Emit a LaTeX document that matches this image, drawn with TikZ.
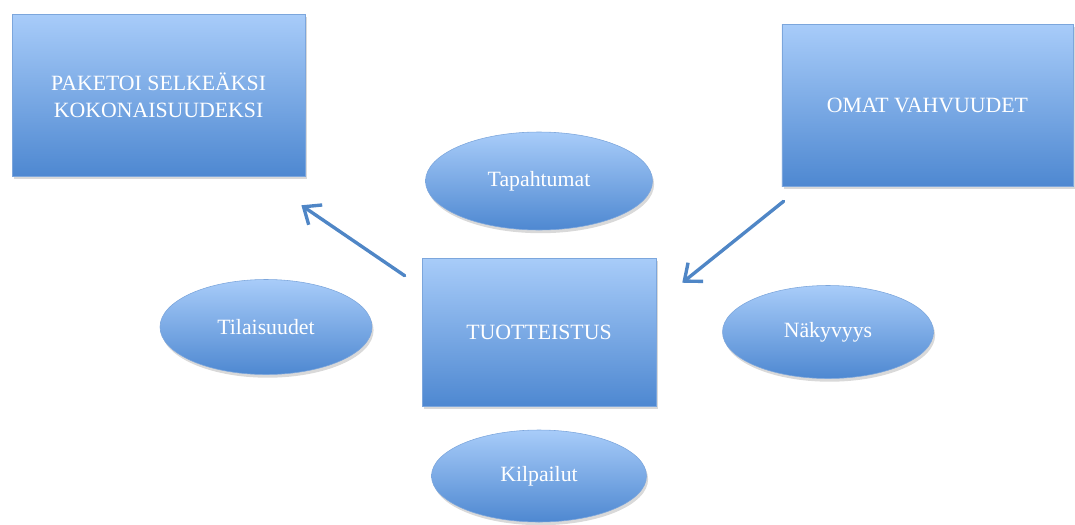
\documentclass[tikz,border=0pt]{standalone}
\usepackage{fontspec}
\setmainfont{Liberation Serif}
\usetikzlibrary{positioning, shapes.geometric, shadows, arrows.meta}
\definecolor{laatyla}{HTML}{A8CCF9}
\definecolor{laatala}{HTML}{4E88D1}
\definecolor{laatreuna}{HTML}{7CA6DC}
\definecolor{nuoli}{HTML}{4F86C6}
\tikzset{
  laatikko/.style = {rectangle, draw=laatreuna, thin, top color=laatyla, bottom color=laatala,
    drop shadow={opacity=0.3, shadow xshift=0.04cm, shadow yshift=-0.08cm},
    text=white, align=center, font=\fontsize{15.5}{19}\selectfont, inner sep=0pt},
  soikio/.style = {ellipse, draw=laatreuna, thin, top color=laatyla, bottom color=laatala,
    drop shadow={opacity=0.3, shadow xshift=0.04cm, shadow yshift=-0.08cm},
    text=white, font=\fontsize{15.5}{19}\selectfont, inner sep=0pt},
  nuolet/.style = {-{Straight Barb[length=3.6mm, width=6mm]}, draw=nuoli, line width=2.4pt, line cap=round}
}
\begin{document}
\begin{tikzpicture} [on grid]
\useasboundingbox (0,0) rectangle (26.875,-13.1);
\node (tuo) [laatikko, minimum width=5.85cm, minimum height=3.7cm] at (13.475,-8.3) {TUOTTEISTUS};
\node (tap) [soikio, minimum width=5.675cm, minimum height=2.45cm, above = 3.775cm of tuo] {Tapahtumat};
\node (kil) [soikio, minimum width=5.375cm, minimum height=2.3cm, below = 3.6cm of tuo] {Kilpailut};
\node (til) [soikio, minimum width=5.3cm, minimum height=2.375cm, above left = 0.125cm and 6.825cm of tuo] {Tilaisuudet};
\node (nak) [soikio, minimum width=5.275cm, minimum height=2.325cm, right = 7.225cm of tuo] {Näkyvyys};
\node (pak) [laatikko, minimum width=7.325cm, minimum height=4.05cm, above left = 5.925cm and 9.51cm of tuo] {PAKETOI SELKEÄKSI\\KOKONAISUUDEKSI};
\node (oma) [laatikko, minimum width=7.275cm, minimum height=4.05cm, above right = 5.675cm and 9.71cm of tuo] {OMAT VAHVUUDET};
\draw [nuolet] ([xshift=-0.425cm, yshift=-0.45cm]tuo.north west) -- ([xshift=-0.1cm, yshift=-0.725cm]pak.south east);
\draw [nuolet] ([xshift=0.05cm, yshift=-0.375cm]oma.south west) -- ([xshift=0.65cm, yshift=-0.625cm]tuo.north east);
\end{tikzpicture}
\end{document}
